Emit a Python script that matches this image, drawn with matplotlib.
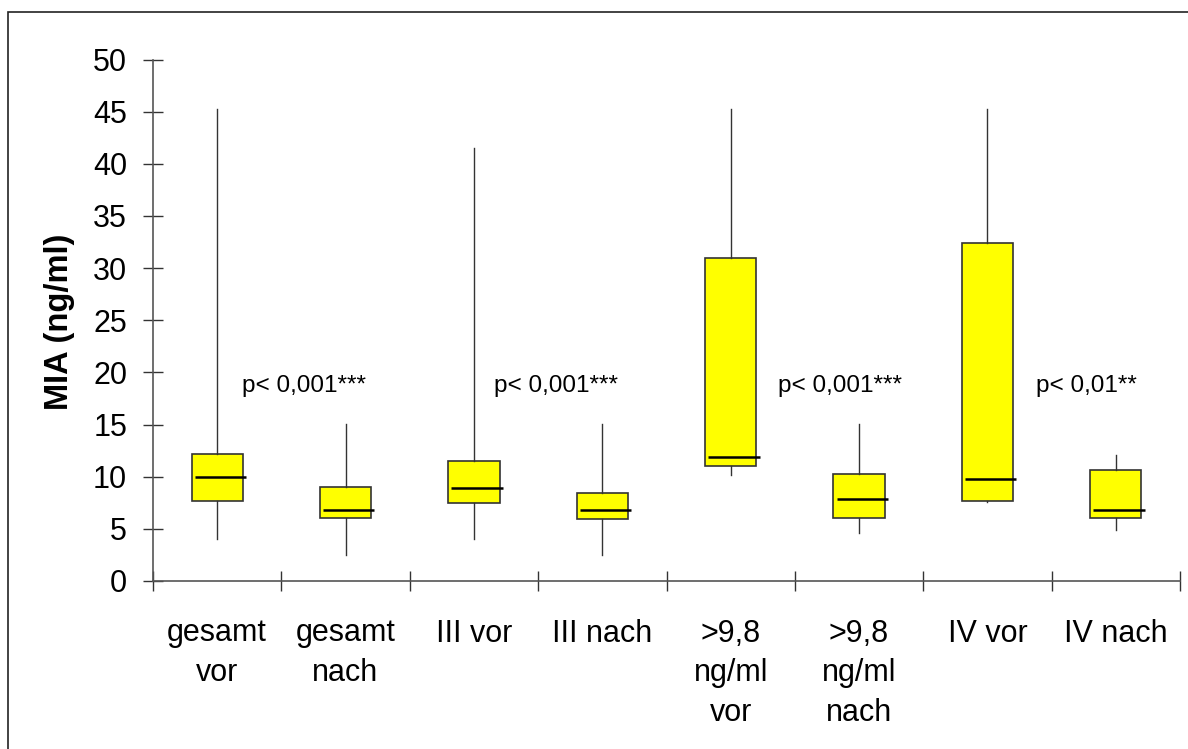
import numpy as np
import matplotlib
matplotlib.use("Agg")
import matplotlib.pyplot as plt
from matplotlib.patches import Rectangle

plt.rcParams["font.family"] = ["Liberation Sans", "DejaVu Sans"]

# --------------------------------------------------------------------------
# Daten
# --------------------------------------------------------------------------
gruppen = ["gesamt\nvor", "gesamt\nnach", "III vor", "III nach",
           ">9,8\nng/ml\nvor", ">9,8\nng/ml\nnach", "IV vor", "IV nach"]
minimum = [4.0, 2.5, 4.0, 2.5, 10.2, 4.6, 7.55, 4.85]
q1 = [7.7, 6.0, 7.5, 5.95, 11.0, 6.05, 7.7, 6.05]
median = [10.0, 6.8, 8.9, 6.8, 11.9, 7.9, 9.8, 6.8]
q3 = [12.2, 9.0, 11.5, 8.45, 31.0, 10.25, 32.45, 10.6]
maximum = [45.3, 15.1, 41.5, 15.1, 45.3, 15.1, 45.3, 12.05]

p_texte = ["p< 0,001***", "p< 0,001***", "p< 0,001***", "p< 0,01**"]
p_x = [1.19, 3.16, 5.37, 7.38]
p_y = 18.1

# --------------------------------------------------------------------------
# Grafik
# --------------------------------------------------------------------------
fig = plt.figure(figsize=(11.88, 7.49), dpi=100)
ax = fig.add_axes([153 / 1188, 168 / 749, 1027 / 1188, 521.5 / 749])

stats = []
for i in range(len(gruppen)):
    stats.append(dict(whislo=minimum[i], q1=q1[i], med=median[i],
                      q3=q3[i], whishi=maximum[i], fliers=[]))

pos = np.arange(1, len(gruppen) + 1)
ax.bxp(stats, positions=pos, widths=0.4, showcaps=False, showfliers=False,
       patch_artist=True,
       boxprops=dict(facecolor="#ffff00", edgecolor="#333333", linewidth=1.2),
       whiskerprops=dict(color="#333333", linewidth=1.0),
       medianprops=dict(visible=False))

# Medianlinien leicht nach rechts versetzt wie im Original
ax.hlines(median, pos - 0.2 + 0.025, pos + 0.2 + 0.025,
          colors="black", linewidth=1.8, zorder=4)

for txt, x in zip(p_texte, p_x):
    ax.text(x, p_y, txt, fontsize=17.5, ha="left", va="baseline")

ax.set_xlim(0.5, len(gruppen) + 0.5)
ax.set_ylim(0, 50)
ax.set_yticks(np.arange(0, 51, 5))

# Trennstriche an den Grenzen, Beschriftung in der Mitte
ax.set_xticks(np.arange(0.5, len(gruppen) + 1, 1.0))
ax.set_xticklabels([])
ax.set_xticks(pos, minor=True)
ax.set_xticklabels(gruppen, minor=True, fontsize=22, linespacing=1.42)
ax.tick_params(axis="x", which="major", direction="inout", length=14.4,
               width=1.0, color="#333333")
ax.tick_params(axis="x", which="minor", length=0, pad=27)
ax.tick_params(axis="y", direction="inout", length=14.4, width=1.0,
               color="#333333", labelsize=22, pad=11.5)

for side in ["top", "right"]:
    ax.spines[side].set_visible(False)
for side in ["left", "bottom"]:
    ax.spines[side].set_color("#555555")
    ax.spines[side].set_linewidth(1.2)

fig.text(68 / 1188, 0.571, "MIA (ng/ml)", fontsize=23.5, fontweight="bold",
         rotation=90, rotation_mode="anchor", ha="center", va="baseline")

# Rahmen um die Grafik (nur oben und links sichtbar)
fig.patches.append(Rectangle((8 / 1188, -0.05), 1.1, 1 - 12 / 749 + 0.05,
                             transform=fig.transFigure, fill=False,
                             edgecolor="#222222", linewidth=1.2))

fig.savefig("out.png", dpi=100)
